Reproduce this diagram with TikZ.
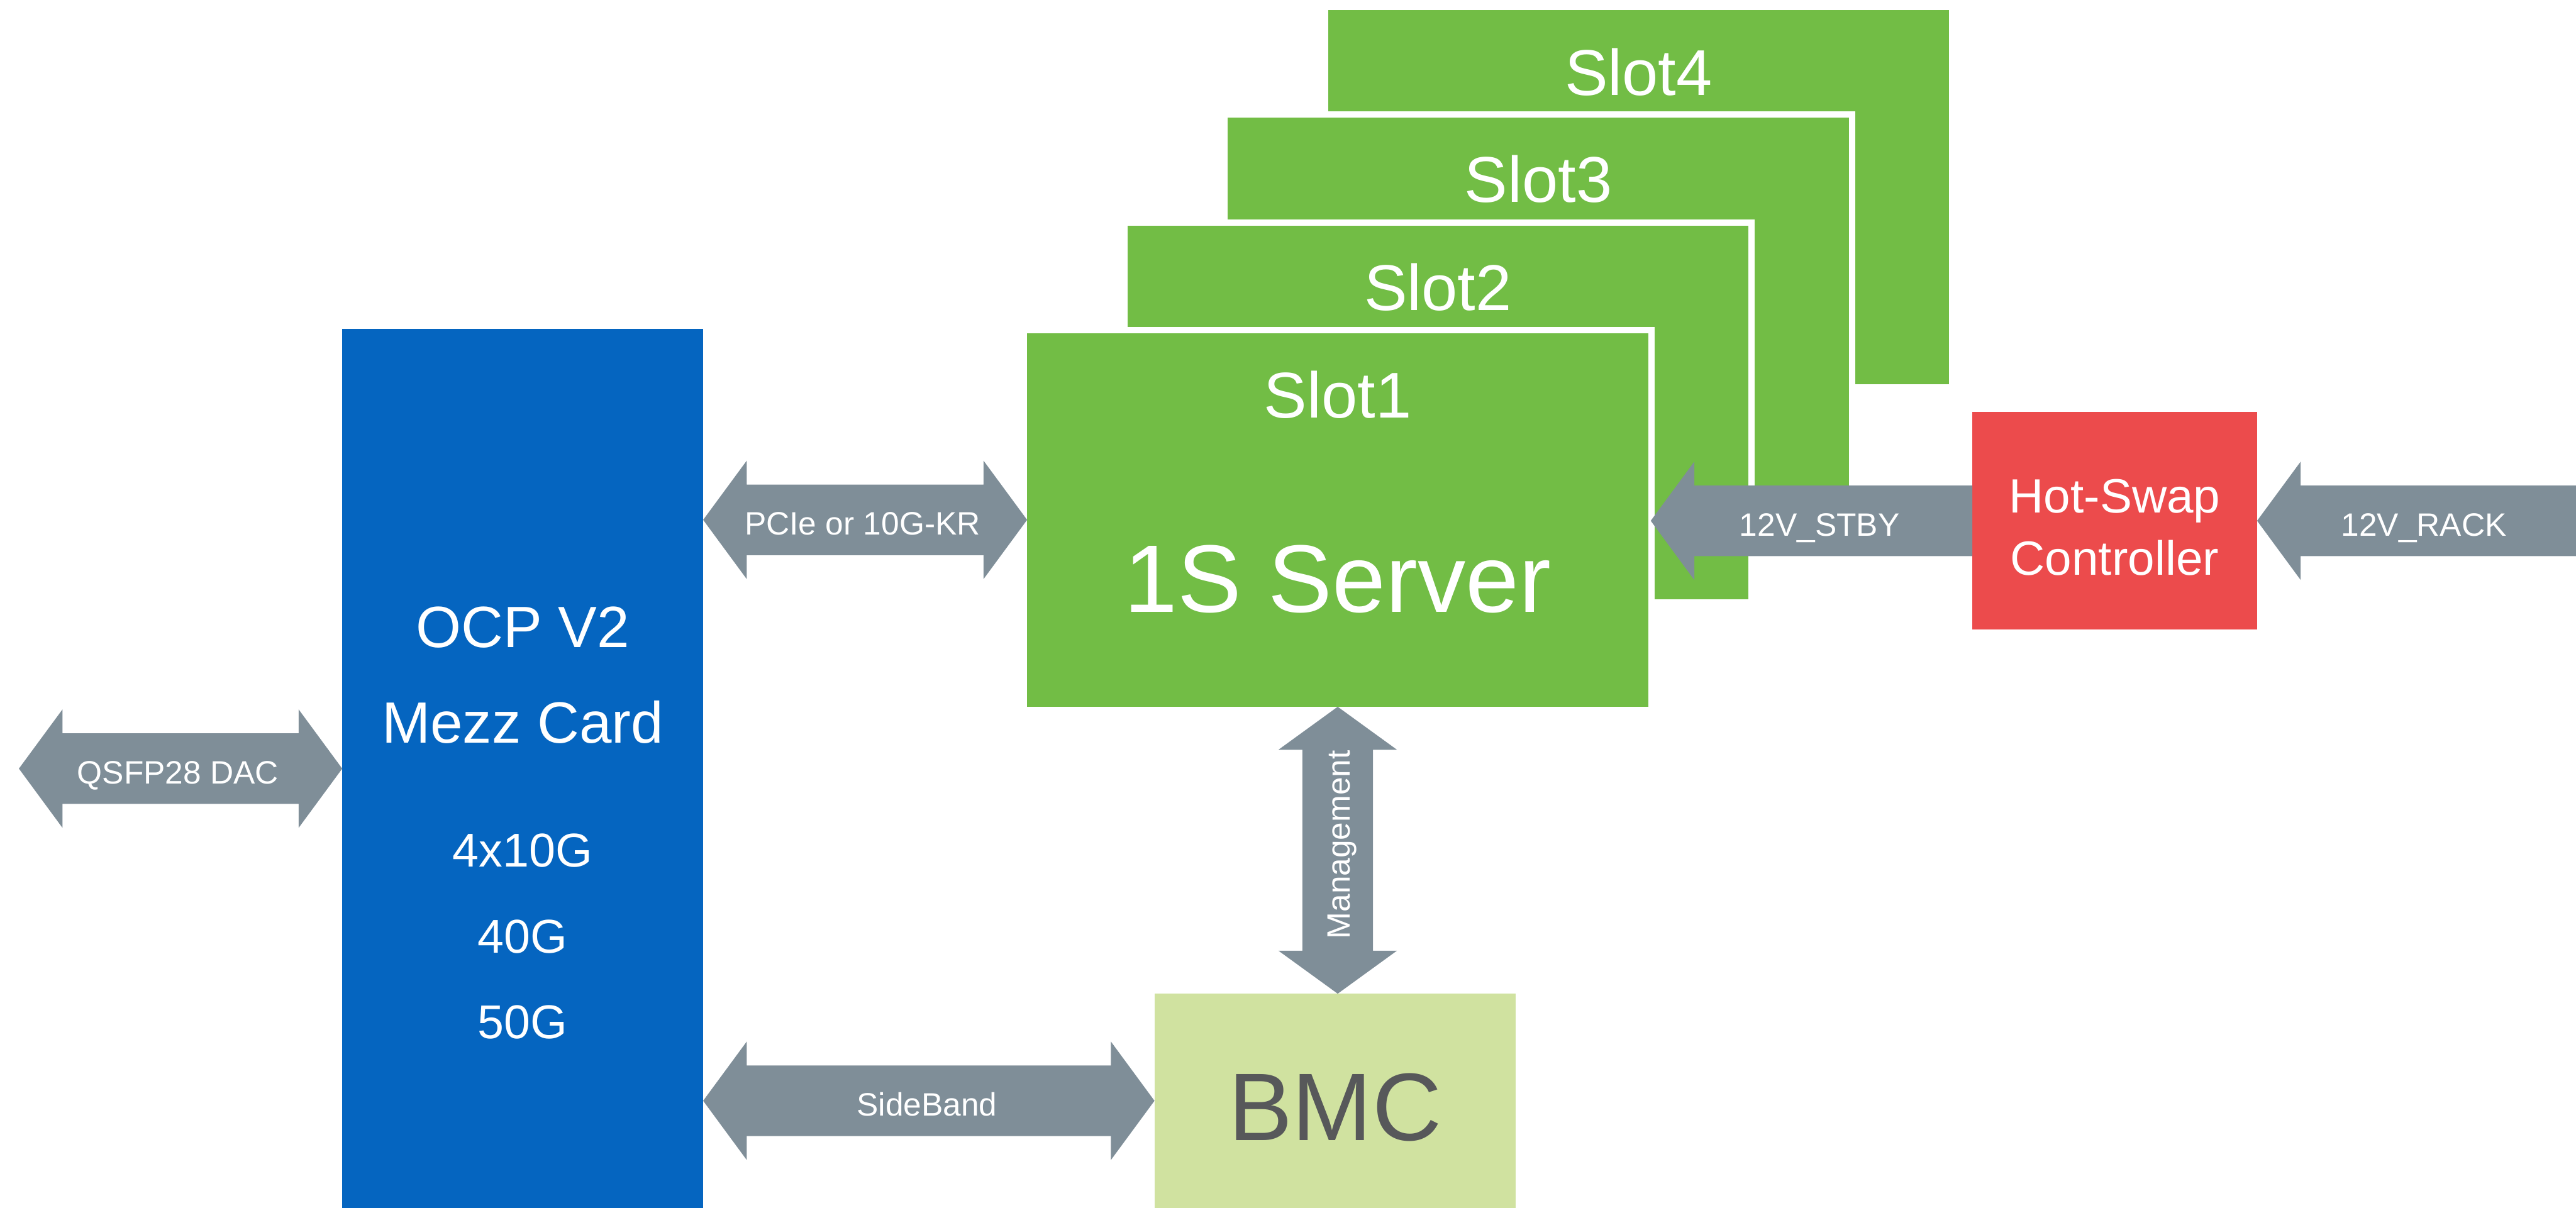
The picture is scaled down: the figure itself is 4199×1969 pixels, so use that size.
\documentclass[tikz,border=0pt]{standalone}
\usepackage{fontspec}
\setmainfont{Liberation Sans}
\usetikzlibrary{calc}
\definecolor{srvgreen}{RGB}{114,189,69}
\definecolor{ocpblue}{RGB}{5,101,192}
\definecolor{arrowgray}{RGB}{127,142,152}
\definecolor{hsred}{RGB}{236,75,76}
\definecolor{bmcgreen}{RGB}{208,226,160}
\definecolor{bmctext}{RGB}{87,88,90}
% horizontal double block arrow between two points (same y)
\newcommand{\hdblarrow}[2]{%
  \fill[arrowgray] let \p1=#1, \p2=#2 in
    (\x1,\y1) -- (\x1+0.71cm,\y1+0.965cm) -- (\x1+0.71cm,\y1+0.575cm)
    -- (\x2-0.71cm,\y1+0.575cm) -- (\x2-0.71cm,\y1+0.965cm) -- (\x2,\y1)
    -- (\x2-0.71cm,\y1-0.965cm) -- (\x2-0.71cm,\y1-0.575cm)
    -- (\x1+0.71cm,\y1-0.575cm) -- (\x1+0.71cm,\y1-0.965cm) -- cycle;}
% left-pointing block arrow: tip #1, tail #2
\newcommand{\hleftarrow}[2]{%
  \fill[arrowgray] let \p1=#1, \p2=#2 in
    (\x1,\y1) -- (\x1+0.71cm,\y1+0.965cm) -- (\x1+0.71cm,\y1+0.575cm)
    -- (\x2,\y1+0.575cm) -- (\x2,\y1-0.575cm)
    -- (\x1+0.71cm,\y1-0.575cm) -- (\x1+0.71cm,\y1-0.965cm) -- cycle;}
% vertical double block arrow: top tip #1, bottom tip #2
\newcommand{\vdblarrow}[2]{%
  \fill[arrowgray] let \p1=#1, \p2=#2 in
    (\x1,\y1) -- (\x1+0.965cm,\y1-0.70cm) -- (\x1+0.575cm,\y1-0.70cm)
    -- (\x1+0.575cm,\y2+0.70cm) -- (\x1+0.965cm,\y2+0.70cm) -- (\x1,\y2)
    -- (\x1-0.965cm,\y2+0.70cm) -- (\x1-0.575cm,\y2+0.70cm)
    -- (\x1-0.575cm,\y1-0.70cm) -- (\x1-0.965cm,\y1-0.70cm) -- cycle;}
\begin{document}
\begin{tikzpicture}[x=0.01cm,y=-0.01cm,
  blk/.style={draw=none,inner sep=0,outer sep=0,rectangle},
  ocpbox/.style={blk,fill=ocpblue,minimum width=5.88cm,minimum height=14.32cm},
  slotbox/.style={blk,fill=srvgreen,minimum width=10.12cm,minimum height=6.09cm,
    preaction={draw=white,line width=0.2cm}},
  hsbox/.style={blk,fill=hsred,minimum width=4.64cm,minimum height=3.54cm},
  bmcbox/.style={blk,fill=bmcgreen,minimum width=5.88cm,minimum height=3.49cm},
  lbl/.style={text=white,inner sep=0,outer sep=0,anchor=base},
  arrlbl/.style={lbl,font=\fontsize{15}{18}\selectfont},
  slotlbl/.style={lbl,font=\fontsize{30}{36}\selectfont},
]
\useasboundingbox (0,0) rectangle (4199,1969);

% boxes
\node[ocpbox] (ocp) at (852,1253) {};
\node[slotbox] (slot4) at (2671,321.5) {};
\node[slotbox] (slot3) at (2507.5,496.5) {};
\node[slotbox] (slot2) at (2344,672.5) {};
\node[slotbox] (slot1) at (2180.5,847.5) {};
\node[hsbox] (hs) at (3447,849) {};
\node[bmcbox] (bmc) at (2176,1794.5) {};

% free ends
\coordinate (qsfpL) at ($(ocp.west)+(-527,0)$);
\coordinate (stbytip) at ($(slot1.east)+(4,1.5)$);
\coordinate (rackR) at (4199,849);

% connectors
\hdblarrow{(qsfpL)}{(ocp.west)}
\hdblarrow{(ocp.east |- slot1.west)}{(slot1.west)}
\hleftarrow{(stbytip)}{(hs.west)}
\hleftarrow{(hs.east)}{(rackR)}
\vdblarrow{(slot1.south)}{(slot1.south |- bmc.north)}
\hdblarrow{(ocp.east |- bmc.west)}{(bmc.west)}

% box texts
\node[slotlbl] (t4) at ($(slot4.north)+(0,138)$) {Slot4};
\node[slotlbl] (t3) at ($(slot3.north)+(0,138)$) {Slot3};
\node[slotlbl] (t2) at ($(slot2.north)+(0,138)$) {Slot2};
\node[slotlbl] (t1) at ($(slot1.north)+(0,138)$) {Slot1};
\node[lbl,font=\fontsize{44.5}{50}\selectfont] (srv) at ($(slot1.north)+(0,455)$) {1S Server};
\node[lbl,text=bmctext,font=\fontsize{44.5}{50}\selectfont] (bmct) at ($(bmc.north)+(0,239)$) {BMC};
\node[lbl,font=\fontsize{22.3}{26}\selectfont] (hs1) at ($(hs.north)+(0,164)$) {Hot-Swap};
\node[lbl,font=\fontsize{22.3}{26}\selectfont] (hs2) at ($(hs.north)+(0,266)$) {Controller};
\node[lbl,font=\fontsize{27}{32}\selectfont] (o1) at ($(ocp.north)+(0,519)$) {OCP V2};
\node[lbl,font=\fontsize{27}{32}\selectfont] (o2) at ($(ocp.north)+(0,675)$) {Mezz Card};
\node[lbl,font=\fontsize{22}{26}\selectfont] (o3) at ($(ocp.north)+(0,877)$) {4x10G};
\node[lbl,font=\fontsize{22}{26}\selectfont] (o4) at ($(ocp.north)+(0,1017)$) {40G};
\node[lbl,font=\fontsize{22}{26}\selectfont] (o5) at ($(ocp.north)+(0,1156)$) {50G};

% connector labels
\node[arrlbl] (lqsfp) at (290,1278) {QSFP28 DAC};
\node[arrlbl] (lpcie) at (1406,872) {PCIe or 10G-KR};
\node[arrlbl] (lstby) at (2966,874) {12V\_STBY};
\node[arrlbl] (lrack) at (3951,874) {12V\_RACK};
\node[arrlbl] (lside) at (1511,1819) {SideBand};
\node[arrlbl,rotate=90] (lmgmt) at (2200,1377) {Management};
\end{tikzpicture}
\end{document}
